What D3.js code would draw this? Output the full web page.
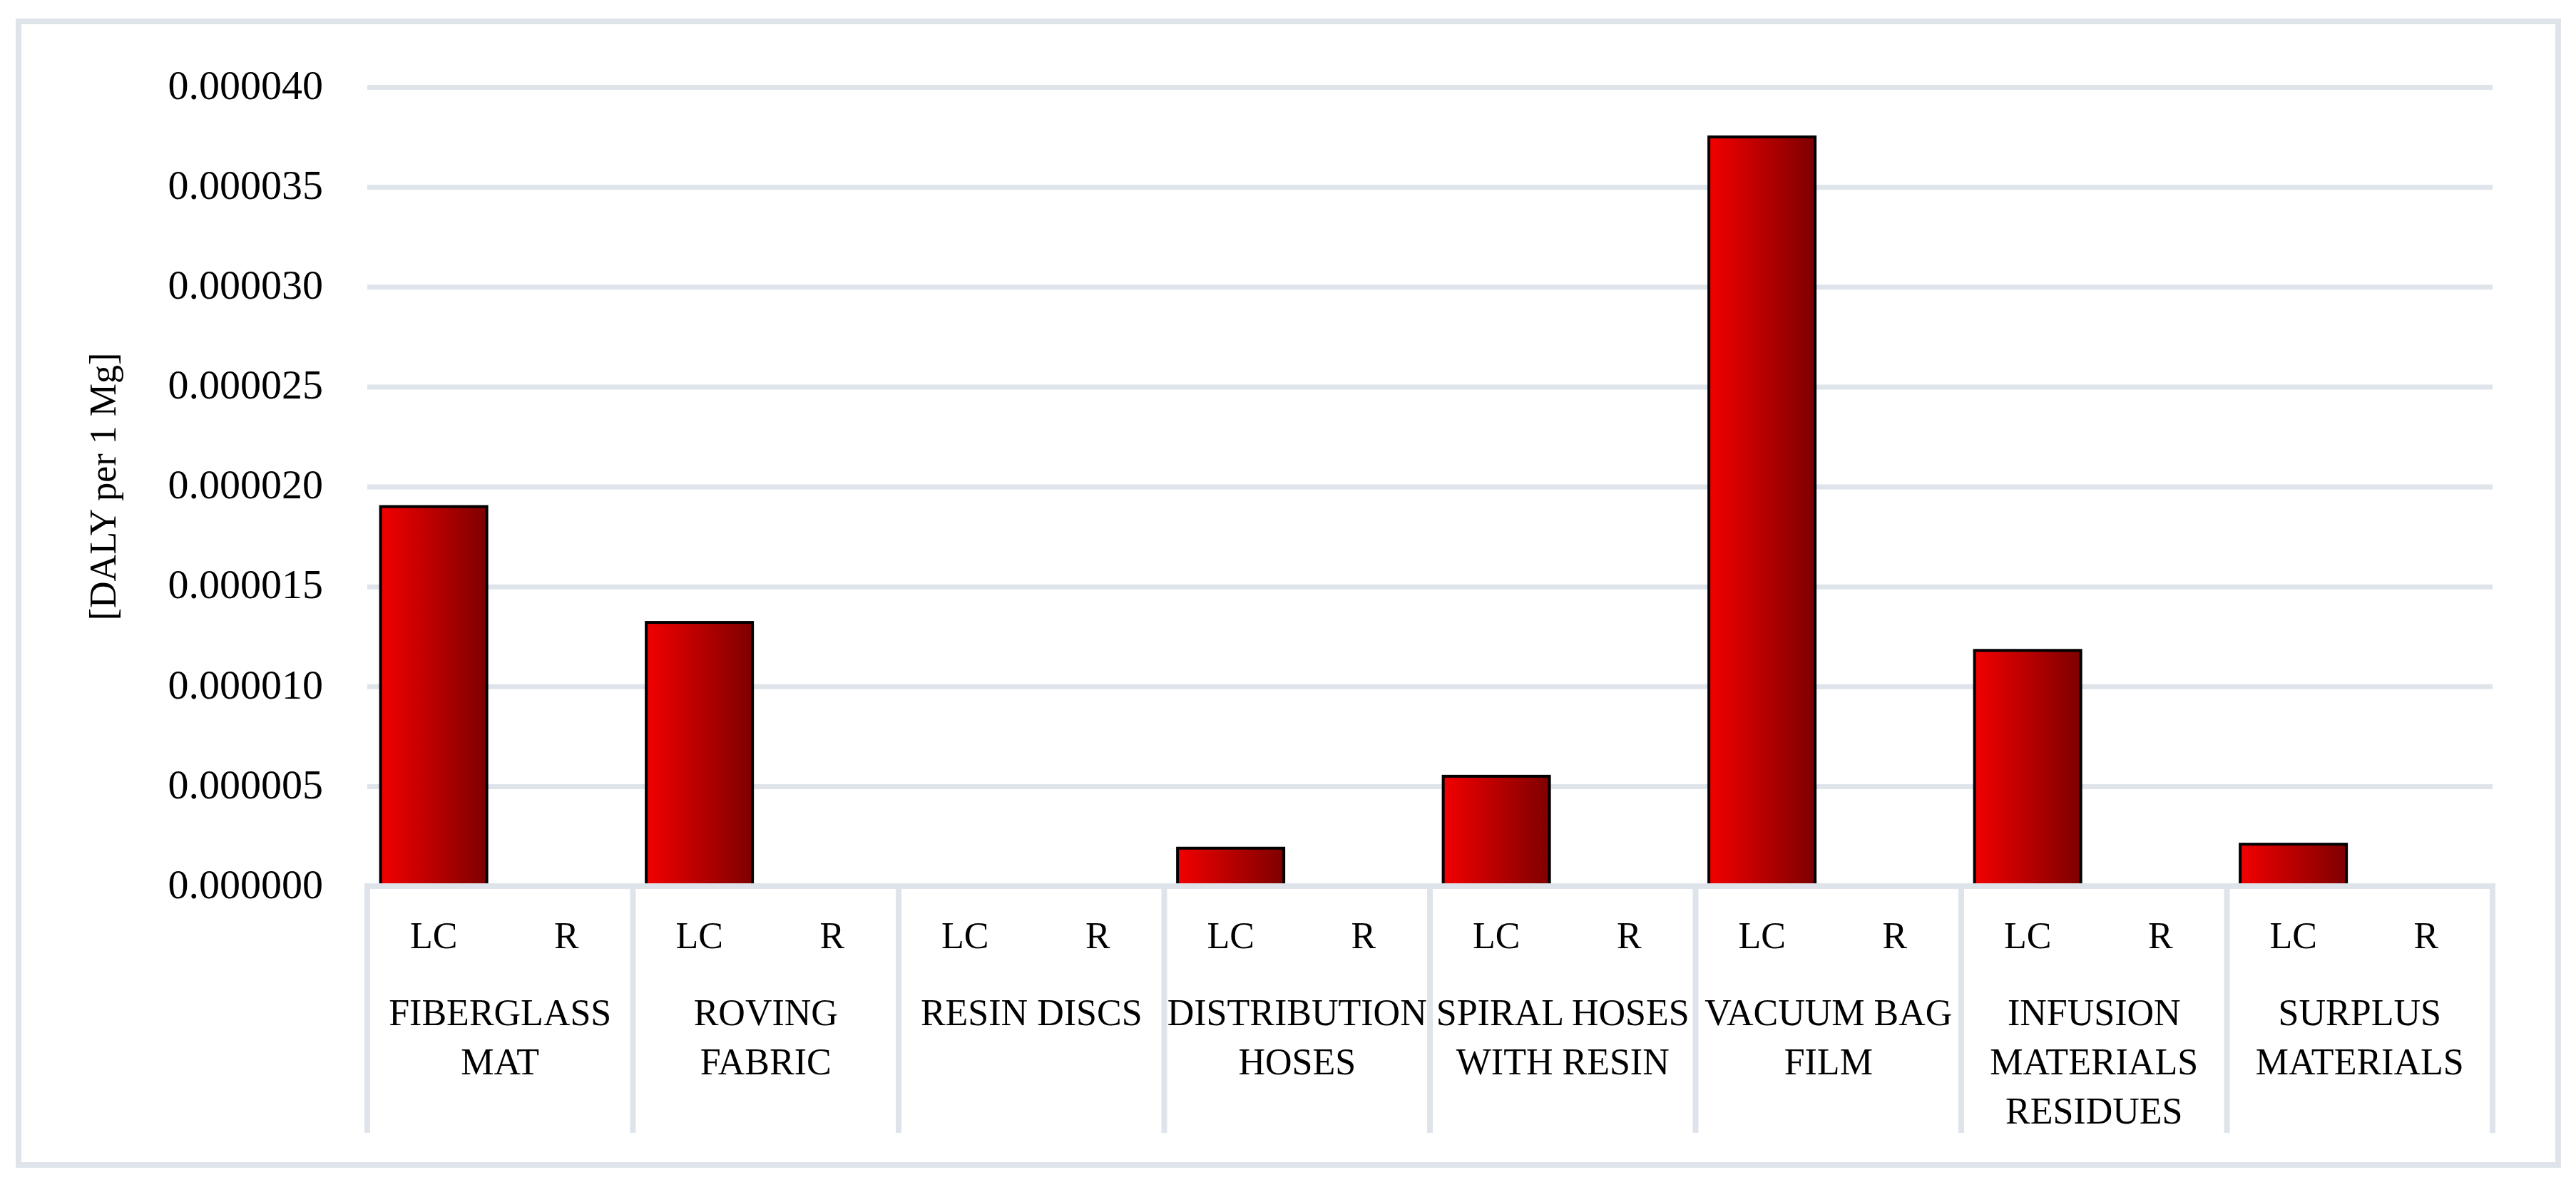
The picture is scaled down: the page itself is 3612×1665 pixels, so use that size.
<!DOCTYPE html>
<html>
<head>
<meta charset="utf-8">
<script src="https://cdn.jsdelivr.net/npm/d3@7"></script>
<style>
  body { margin: 0; background: #fff; }
  svg { display: block; }
</style>
</head>
<body>
<div id="chart"></div>
<script>
// data
const categories = ["FIBERGLASS MAT", "ROVING FABRIC", "RESIN DISCS", "DISTRIBUTION HOSES",
    "SPIRAL HOSES WITH RESIN", "VACUUM BAG FILM", "INFUSION MATERIALS RESIDUES", "SURPLUS MATERIALS"];
const categoryLines = [["FIBERGLASS", "MAT"], ["ROVING", "FABRIC"], ["RESIN DISCS"], ["DISTRIBUTION", "HOSES"],
    ["SPIRAL HOSES", "WITH RESIN"], ["VACUUM BAG", "FILM"], ["INFUSION", "MATERIALS", "RESIDUES"], ["SURPLUS", "MATERIALS"]];
const series = ["LC", "R"];
const lcValues = [0.0000190, 0.0000132, 0, 0.0000019, 0.0000055, 0.0000375, 0.0000118, 0.0000021];
const rValues = [0, 0, 0, 0, 0, 0, 0, 0];
const yTicks = [0, 0.000005, 0.000010, 0.000015, 0.000020, 0.000025, 0.000030, 0.000035, 0.000040];
const yTitle = "[DALY per 1 Mg]";

const width = 3612, height = 1665;
const plotLeft = 515, plotRight = 3495, plotTop = 122, plotBottom = 1243;
const gridColor = "#dee4ea";
const fontFamily = "'Liberation Serif', 'DejaVu Serif', serif";

const rows = categories.map((c, i) => ({category: c, LC: lcValues[i], R: rValues[i]}));

const svg = d3.select("#chart").append("svg")
    .attr("width", width)
    .attr("height", height);

// bar gradient, bright red to dark maroon
const grad = svg.append("defs").append("linearGradient")
    .attr("id", "barFill")
    .attr("x1", "0").attr("y1", "0")
    .attr("x2", "1").attr("y2", "0");
grad.append("stop").attr("offset", "0%").attr("stop-color", "#f20000");
grad.append("stop").attr("offset", "100%").attr("stop-color", "#7e0000");

// outer frame
svg.append("rect")
    .attr("x", 26).attr("y", 30)
    .attr("width", 3561).attr("height", 1604)
    .attr("fill", "#fff")
    .attr("stroke", gridColor)
    .attr("stroke-width", 8);

const x0 = d3.scaleBand().domain(categories).range([plotLeft, plotRight]);
const x1 = d3.scaleBand().domain(series).range([0, x0.bandwidth()])
    .paddingInner(0.2).paddingOuter(0.1);
const y = d3.scaleLinear().domain([0, 0.00004]).range([plotBottom, plotTop]);

// y axis with gridlines
const yAxis = svg.append("g")
    .attr("transform", `translate(${plotLeft},0)`)
    .call(d3.axisLeft(y)
        .tickValues(yTicks)
        .tickSize(-(plotRight - plotLeft))
        .tickPadding(62)
        .tickFormat(d => d.toFixed(6)));
yAxis.select(".domain").remove();
yAxis.selectAll(".tick line")
    .attr("stroke", gridColor)
    .attr("stroke-width", 7);
yAxis.selectAll(".tick text")
    .attr("dy", "0.28em")
    .attr("fill", "#000")
    .style("font-family", fontFamily)
    .style("font-size", "58px");

// y title
svg.append("text")
    .attr("transform", `translate(162,${(plotTop + plotBottom) / 2}) rotate(-90)`)
    .attr("text-anchor", "middle")
    .style("font-family", fontFamily)
    .style("font-size", "52px")
    .attr("fill", "#000")
    .text(yTitle);

// bars
const groups = svg.append("g").selectAll("g")
    .data(rows)
    .join("g")
    .attr("transform", d => `translate(${x0(d.category)},0)`);

groups.selectAll("rect")
    .data(d => series.map(s => ({key: s, value: d[s]})).filter(e => e.value > 0))
    .join("rect")
    .attr("x", d => x1(d.key))
    .attr("y", d => y(d.value))
    .attr("width", x1.bandwidth())
    .attr("height", d => y(0) - y(d.value))
    .attr("fill", "url(#barFill)")
    .attr("stroke", "#000")
    .attr("stroke-width", 4);

// category box under the axis
const boxBottom = 1589;
svg.append("line")
    .attr("x1", plotLeft - 4).attr("x2", plotRight + 4)
    .attr("y1", y(0)).attr("y2", y(0))
    .attr("stroke", gridColor)
    .attr("stroke-width", 8);

const dividers = categories.map(c => x0(c)).concat([plotRight]);
svg.append("g").selectAll("line")
    .data(dividers)
    .join("line")
    .attr("x1", d => d).attr("x2", d => d)
    .attr("y1", y(0) - 4).attr("y2", boxBottom)
    .attr("stroke", gridColor)
    .attr("stroke-width", 8);

// series labels LC / R
groups.selectAll("text.sub")
    .data(series)
    .join("text")
    .attr("class", "sub")
    .attr("x", s => x1(s) + x1.bandwidth() / 2)
    .attr("y", 1330)
    .attr("text-anchor", "middle")
    .style("font-family", fontFamily)
    .style("font-size", "52px")
    .attr("fill", "#000")
    .text(s => s);

// category labels, wrapped as in the reference
groups.append("text")
    .attr("text-anchor", "middle")
    .style("font-family", fontFamily)
    .style("font-size", "52px")
    .attr("fill", "#000")
    .selectAll("tspan")
    .data((d, i) => categoryLines[i])
    .join("tspan")
    .attr("x", x0.bandwidth() / 2)
    .attr("y", (d, i) => 1438 + i * 69)
    .text(d => d);
</script>
</body>
</html>
